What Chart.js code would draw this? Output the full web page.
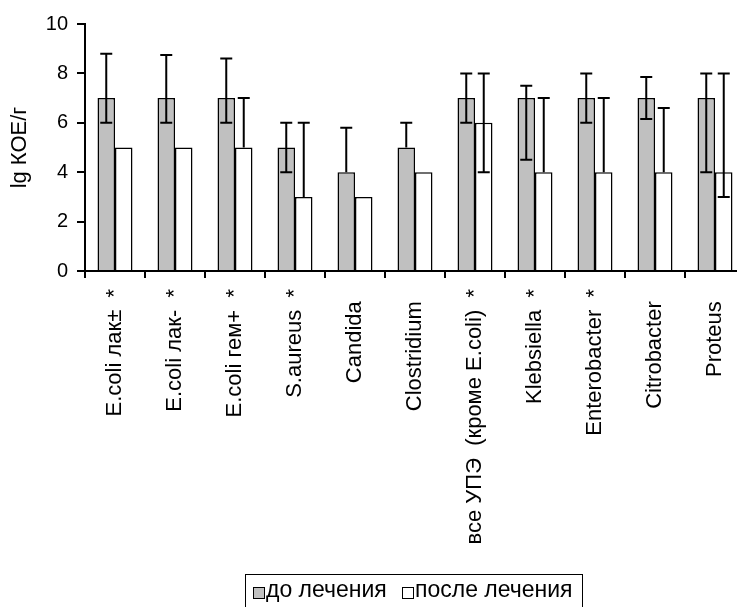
<!DOCTYPE html>
<html><head><meta charset="utf-8">
<script src="https://cdn.jsdelivr.net/npm/chart.js@4"></script>
<style>
html,body{margin:0;padding:0;overflow:hidden;background:#fff;}
#wrap{position:relative;width:760px;height:607px;}
#legend{position:absolute;left:245px;top:574px;width:338px;height:40px;border:1px solid #000;box-sizing:border-box;font-family:"Liberation Sans",Arial,sans-serif;font-size:23px;line-height:23px;color:#000;white-space:nowrap;}
#legend .sw{position:absolute;top:12px;width:10px;height:10px;border:1px solid #000;}
#legend .tx{position:absolute;top:3px;}
</style>
</head><body>
<div id="wrap">
<canvas id="c" width="760" height="607"></canvas>
<div id="legend"></div>
</div>
<script>
const categories = ['E.coli лак±  *', 'E.coli лак-  *', 'E.coli гем+  *', 'S.aureus  *', 'Candida  ', 'Clostridium  ', 'все УПЭ  (кроме E.coli)  *', 'Klebsiella  *', 'Enterobacter  *', 'Citrobacter  ', 'Proteus  '];
const seriesNames = ['до лечения', 'после лечения'];
const beforeValues = [7, 7, 7, 5, 4, 5, 7, 7, 7, 7, 7];
const afterValues  = [5, 5, 5, 3, 3, 4, 6, 4, 4, 4, 4];
const beforeErrHigh = [8.8, 8.75, 8.6, 6, 5.8, 6, 8, 7.5, 8, 7.85, 8];
const beforeErrLow  = [6, 6, 6, 4, null, null, 6, 4.5, 6, 6.15, 4];
const afterErrHigh  = [null, null, 7, 6, null, null, 8, 7, 7, 6.6, 8];
const afterErrLow   = [null, null, null, null, null, null, 4, null, null, null, 3];
const yTicks = [0, 2, 4, 6, 8, 10];
const yTitle = 'lg КОЕ/г';

const FONT = '"Liberation Sans", Arial, sans-serif';
const colors = ['#c0c0c0', '#ffffff'];

const errorBars = {
  id: 'errorBars',
  afterDatasetsDraw(chart) {
    const ctx = chart.ctx, y = chart.scales.y;
    const sets = [[beforeErrHigh, beforeErrLow], [afterErrHigh, afterErrLow]];
    sets.forEach(([hi, lo], d) => {
      const meta = chart.getDatasetMeta(d);
      meta.data.forEach((bar, i) => {
        if (hi[i] == null && lo[i] == null) return;
        const v = chart.data.datasets[d].data[i];
        const top = y.getPixelForValue(hi[i] != null ? hi[i] : v);
        const bot = y.getPixelForValue(lo[i] != null ? lo[i] : v);
        ctx.save();
        ctx.strokeStyle = '#000';
        ctx.lineWidth = 2;
        ctx.beginPath();
        ctx.moveTo(bar.x, top); ctx.lineTo(bar.x, bot);
        if (hi[i] != null) { ctx.moveTo(bar.x - 6, top); ctx.lineTo(bar.x + 6, top); }
        if (lo[i] != null) { ctx.moveTo(bar.x - 6, bot); ctx.lineTo(bar.x + 6, bot); }
        ctx.stroke();
        ctx.restore();
      });
    });
  }
};

const chart = new Chart(document.getElementById('c'), {
  type: 'bar',
  data: {
    labels: categories,
    datasets: [
      { label: seriesNames[0], data: beforeValues, backgroundColor: colors[0], borderColor: '#000', borderWidth: 1.5, categoryPercentage: 0.583, barPercentage: 1 },
      { label: seriesNames[1], data: afterValues, backgroundColor: colors[1], borderColor: '#000', borderWidth: 1.5, categoryPercentage: 0.583, barPercentage: 1 }
    ]
  },
  options: {
    responsive: false,
    devicePixelRatio: 1,
    animation: false,
    layout: { padding: { top: 24, right: 15, left: 0, bottom: 0 } },
    plugins: { legend: { display: false }, tooltip: { enabled: false } },
    scales: {
      x: {
        grid: { display: true, drawOnChartArea: false, drawTicks: true, tickLength: 7, color: '#000', lineWidth: 2, offset: true },
        border: { display: true, color: '#000', width: 2 },
        ticks: { color: '#000', font: { family: FONT, size: 22 }, minRotation: 90, maxRotation: 90, autoSkip: false, padding: 11 },
        afterFit(s) { s.height = 336; }
      },
      y: {
        min: 0, max: 10,
        grid: { drawOnChartArea: false, drawTicks: true, tickLength: 8, color: '#000', lineWidth: 2 },
        border: { display: true, color: '#000', width: 2 },
        ticks: { color: '#000', font: { family: FONT, size: 20 }, padding: 9 },
        afterBuildTicks(s) { s.ticks = yTicks.map(v => ({ value: v })); },
        title: { display: true, text: yTitle, color: '#000', font: { family: FONT, size: 22 }, padding: { top: 7, bottom: 0 } },
        afterFit(s) { s.width = 85; }
      }
    }
  },
  plugins: [errorBars]
});

// HTML legend built from the dataset definitions
const lg = document.getElementById('legend');
const pos = [[7, 20], [156, 169]];
chart.data.datasets.forEach((ds, i) => {
  const sw = document.createElement('span');
  sw.className = 'sw'; sw.style.left = pos[i][0] + 'px'; sw.style.background = ds.backgroundColor;
  const tx = document.createElement('span');
  tx.className = 'tx'; tx.style.left = pos[i][1] + 'px'; tx.textContent = ds.label;
  lg.appendChild(sw); lg.appendChild(tx);
});
</script>
</body></html>
